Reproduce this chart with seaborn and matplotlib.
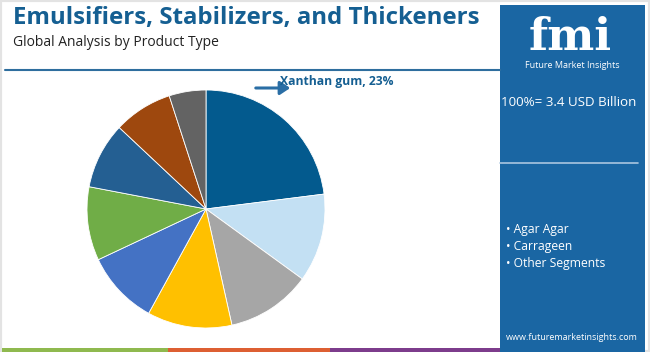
import matplotlib
matplotlib.use("Agg")
import matplotlib.pyplot as plt
import seaborn as sns
from matplotlib.patches import Rectangle

# data (clockwise from 12 o'clock)
segments = ["Xanthan gum", "Segment 2", "Segment 3", "Segment 4", "Segment 5",
            "Segment 6", "Segment 7", "Segment 8", "Segment 9"]
shares = [23, 12, 11.5, 11.5, 10, 10, 9, 8, 5]
colors = ["#035a8e", "#c3e0f3", "#a6a6a6", "#ffc000", "#4472c4",
          "#70ad47", "#245f92", "#9e480e", "#636363"]
bullets = ["Agar Agar", "Carrageen", "Other Segments"]
total_label = "100%= 3.4 USD Billion"

sns.set_theme(style="white")
plt.rcParams["font.family"] = ["Open Sans", "DejaVu Sans"]

W, H = 650, 352
fig = plt.figure(figsize=(W / 100, H / 100), dpi=100)
fig.patch.set_facecolor("white")


def fx(x):
    return x / W


def fy(y):
    return 1 - y / H


# outer border
fig.add_artist(Rectangle((0, 0), 1, 1, transform=fig.transFigure, fill=False,
                         edgecolor="#e3e3e3", lw=3))

# title block
fig.text(fx(13), fy(18), "Emulsifiers, Stabilizers, and Thickeners", fontsize=17.3,
         fontweight="bold", color="#155f92", va="center", ha="left")
fig.text(fx(13), fy(42), "Global Analysis by Product Type", fontsize=10,
         color="#222222", va="center", ha="left")
fig.add_artist(plt.Line2D([fx(5), fx(500)], [fy(70), fy(70)], transform=fig.transFigure,
                          color="#2e6e9e", lw=1.5))

# bottom stripes
for x0, x1, c in [(2, 168, "#8fb94f"), (168, 330, "#dd5f32"), (330, 500, "#7d3c8c")]:
    fig.add_artist(Rectangle((fx(x0), 0), fx(x1 - x0), 4 / H, transform=fig.transFigure,
                             color=c, lw=0))

# right panel
fig.add_artist(Rectangle((fx(500), 0), fx(145), fy(5), transform=fig.transFigure,
                         color="#1a66a3", lw=0))
fig.text(fx(570), fy(50), "fmi", fontsize=32, fontweight="bold", color="white",
         ha="center", va="baseline", family="DejaVu Serif")
fig.text(fx(572), fy(65), "Future Market Insights", fontsize=6.5, color="white",
         ha="center", va="center")
fig.text(fx(569), fy(103), total_label, fontsize=9.6, color="white",
         ha="center", va="center")
fig.add_artist(plt.Line2D([fx(500), fx(638)], [fy(163), fy(163)], transform=fig.transFigure,
                          color="#a9c6e0", lw=1.2))
for i, b in enumerate(bullets):
    fig.text(fx(506), fy(229 + 17.5 * i), "\u2022 " + b, fontsize=8.7, color="white",
             ha="left", va="center")
fig.text(fx(572), fy(337), "www.futuremarketinsights.com", fontsize=6.5, color="white",
         ha="center", va="center")

# pie
cx, cy, r = 206, 209, 119
ax = fig.add_axes([fx(cx - r), (H - cy - r) / H, 2 * r / W, 2 * r / H])
ax.pie(shares, colors=colors, startangle=90, counterclock=False,
       wedgeprops=dict(linewidth=0.6, edgecolor="white"))
ax.set_aspect("equal")
ax.set_xlim(-1, 1)
ax.set_ylim(-1, 1)
ax.axis("off")

# callout
fig.add_artist(matplotlib.patches.FancyArrowPatch((fx(253), fy(88)), (fx(293), fy(88)),
                                                  transform=fig.transFigure,
                                                  arrowstyle="-|>,head_length=6,head_width=4",
                                                  color="#2a6ea5", lw=2.2))
fig.text(fx(280), fy(82), f"{segments[0]}, {shares[0]:g}%", fontsize=8.7,
         fontweight="bold", color="#155f92", ha="left", va="center")

fig.savefig("out.png", dpi=100)
